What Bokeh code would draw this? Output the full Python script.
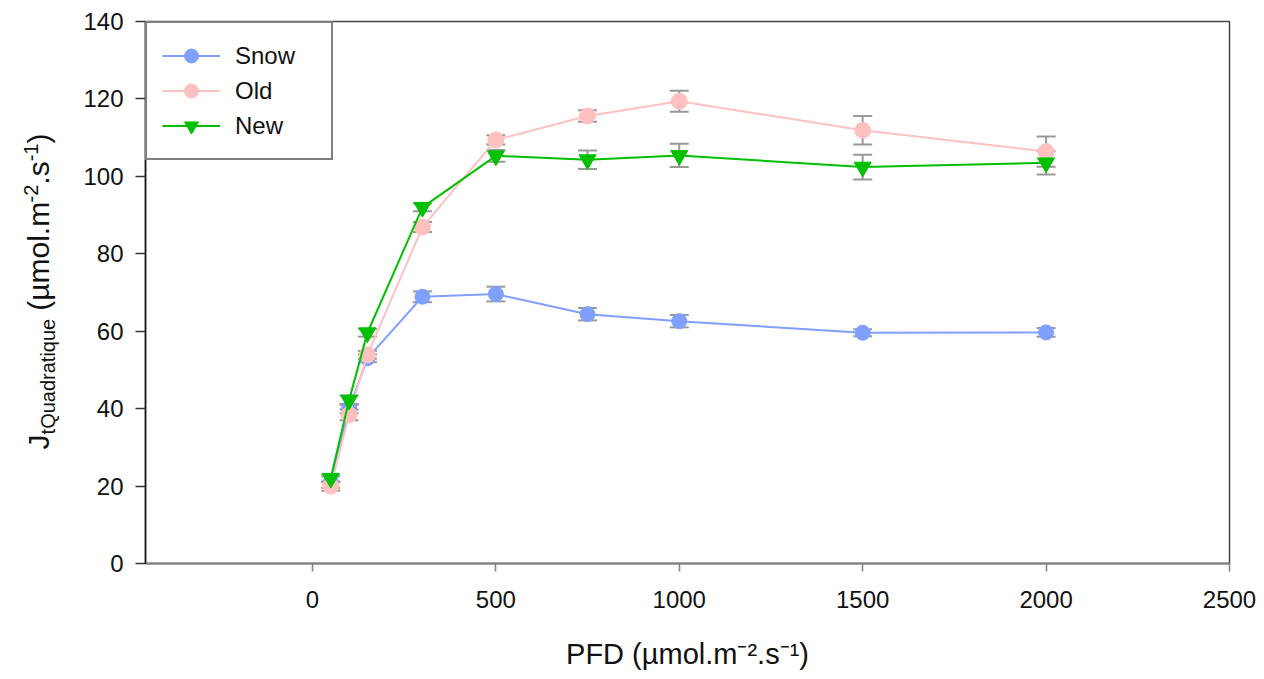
import math
from bokeh.plotting import figure
from bokeh.layouts import row
from bokeh.models import (ColumnDataSource, Whisker, TeeHead, FixedTicker,
                          Legend, LegendItem, Label, Range1d)
from bokeh.embed import file_html
from bokeh.resources import INLINE

# ---------------- data ----------------
pfd = [50, 100, 150, 300, 500, 750, 1000, 1500, 2000]
snow = [21.0, 40.0, 53.0, 68.9, 69.6, 64.4, 62.6, 59.6, 59.7]
snow_err = [1.5, 1.2, 1.0, 1.4, 1.9, 1.6, 1.6, 0.9, 1.1]
old = [20.0, 38.4, 53.9, 86.9, 109.4, 115.6, 119.4, 111.9, 106.4]
old_err = [1.2, 1.4, 1.0, 1.3, 1.2, 1.5, 2.7, 3.7, 3.9]
new = [22.0, 42.2, 59.6, 92.0, 105.3, 104.3, 105.4, 102.4, 103.5]
new_err = [1.0, 1.2, 1.0, 1.0, 1.5, 2.4, 3.0, 3.2, 3.0]

series_names = ["Snow", "Old", "New"]
x_ticks = [0, 500, 1000, 1500, 2000, 2500]
y_ticks = [0, 20, 40, 60, 80, 100, 120, 140]
x_title = "PFD (µmol.m⁻².s⁻¹)"

# ---------------- styles ----------------
COL_SNOW = "#80a0ff"
COL_OLD = "#ffc0c0"
COL_NEW = "#00c000"
ERR_COL = "#999999"
FONT = "Liberation Sans"

X0, X1 = -455, 2500
Y0, Y1 = 0, 140

TOTAL_H = 679
YT_W = 60          # width of the strip holding the y title
MAIN_W = 1196

p = figure(width=MAIN_W, height=TOTAL_H, x_range=Range1d(X0, X1), y_range=Range1d(Y0, Y1),
           output_backend="svg", toolbar_location=None,
           min_border_left=85, min_border_right=27, min_border_top=21,
           min_border_bottom=TOTAL_H - 563)
p.background_fill_color = "white"
p.border_fill_color = "white"
p.xgrid.visible = False
p.ygrid.visible = False
p.outline_line_color = "#444444"
p.outline_line_width = 1.5

p.xaxis.ticker = FixedTicker(ticks=x_ticks)
p.yaxis.ticker = FixedTicker(ticks=y_ticks)
for ax in (p.xaxis[0], p.yaxis[0]):
    ax.minor_tick_line_color = None
    ax.major_tick_in = 0
    ax.major_label_text_font = FONT
    ax.major_label_text_font_size = "24px"
    ax.major_label_text_color = "#111111"
p.yaxis.axis_label = None
p.xaxis.axis_label = x_title
p.xaxis.axis_label_text_font = FONT
p.xaxis.axis_label_text_font_size = "29px"
p.xaxis.axis_label_text_font_style = "normal"
p.xaxis.axis_label_text_color = "#111111"
p.xaxis.axis_label_standoff = 27
p.xaxis.axis_line_color = "#808080"
p.xaxis.axis_line_width = 2
p.xaxis.major_tick_line_color = "#808080"
p.xaxis.major_tick_line_width = 1.5
p.xaxis.major_tick_out = 8
p.xaxis.major_label_standoff = 19
p.yaxis.axis_line_color = "#111111"
p.yaxis.axis_line_width = 1.5
p.yaxis.major_tick_line_color = "#333333"
p.yaxis.major_tick_line_width = 1.5
p.yaxis.major_tick_out = 10
p.yaxis.major_label_standoff = 12

items = []
for name, vals, errs, col, marker, msize in [
    ("Snow", snow, snow_err, COL_SNOW, "circle", 15),
    ("Old", old, old_err, COL_OLD, "circle", 16),
    ("New", new, new_err, COL_NEW, "inverted_triangle", 17),
]:
    src = ColumnDataSource(dict(x=pfd, y=vals,
                                upper=[v + e for v, e in zip(vals, errs)],
                                lower=[v - e for v, e in zip(vals, errs)]))
    w = Whisker(source=src, base="x", upper="upper", lower="lower", dimension="height",
                line_color=ERR_COL, line_width=2, level="underlay",
                upper_head=TeeHead(size=19, line_color=ERR_COL, line_width=2),
                lower_head=TeeHead(size=19, line_color=ERR_COL, line_width=2))
    p.add_layout(w)
    lr = p.line("x", "y", source=src, line_color=col, line_width=2)
    sr = p.scatter("x", "y", source=src, marker=marker, size=msize,
                   fill_color=col, line_color=col)
    items.append(LegendItem(label=name, renderers=[lr, sr]))

legend = Legend(items=items, location="top_left", margin=0, padding=15,
                spacing=0, glyph_width=58, glyph_height=35, label_height=35,
                label_width=81, label_standoff=15,
                label_text_font=FONT, label_text_font_size="24px",
                label_text_color="#111111",
                border_line_color="black", border_line_width=2,
                background_fill_color="white", background_fill_alpha=1.0)
p.add_layout(legend)

# ---------------- y title strip ----------------
fy = figure(width=YT_W, height=TOTAL_H, x_range=Range1d(0, YT_W), y_range=Range1d(0, TOTAL_H),
            output_backend="svg", toolbar_location=None,
            x_axis_location=None, y_axis_location=None,
            min_border=0, min_border_left=0, min_border_right=0,
            min_border_top=0, min_border_bottom=0)
fy.xgrid.visible = False
fy.ygrid.visible = False
fy.outline_line_color = None
fy.background_fill_color = "white"
fy.border_fill_color = "white"

EM = {'P': .667, 'F': .611, 'D': .722, ' ': .278, '(': .333, ')': .333, 'µ': .556,
      'm': .833, 'o': .556, 'l': .222, '.': .278, '-': .333, '2': .556, '1': .556,
      's': .5, 'J': .5, 't': .278, 'Q': .778, 'u': .556, 'a': .556, 'd': .556,
      'r': .333, 'i': .222, 'q': .556, 'e': .556}


def text_w(s, size):
    return sum(EM.get(c, .556) for c in s) * size


# J_tQuadratique (µmol.m-2.s-1), rotated; (text, size, baseline shift, gap before)
y_pieces = [("J", 30, 0, 0), ("tQuadratique", 20, -9, 0), ("(µmol.m", 30, 0, 8),
            ("-2", 20, 8, 0), (".s", 30, 0, 0), ("-1", 20, 8, 0), (")", 30, 0, 0)]
total = sum(text_w(t, s) + g for t, s, _, g in y_pieces)
cy = 291 + total / 2        # canvas pixels, measured from the top
base_x = 38
for txt, size, rise, gap in y_pieces:
    cy -= gap
    fy.add_layout(Label(x=base_x - rise, y=cy, x_units="canvas", y_units="canvas",
                        text=txt, text_font=FONT,
                        text_font_size=f"{size}px", text_color="#111111",
                        angle=math.pi / 2, text_align="left", text_baseline="alphabetic"))
    cy -= text_w(txt, size)

layout = row(fy, p, spacing=0)

open("out.html", "w").write(file_html(layout, INLINE))
